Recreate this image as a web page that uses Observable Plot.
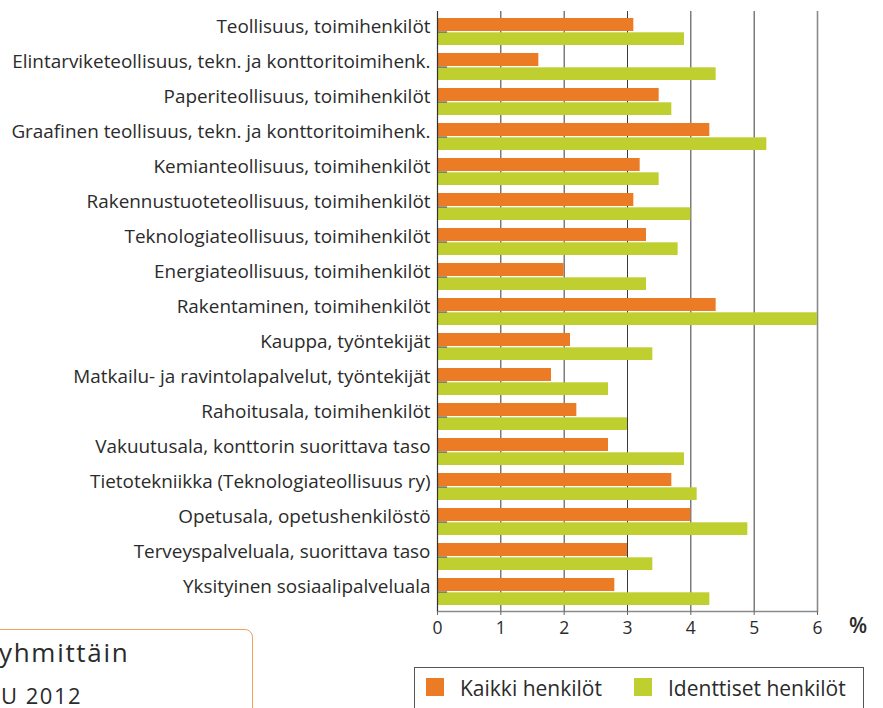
<!DOCTYPE html>
<html>
<head>
<meta charset="utf-8">
<script src="https://cdn.jsdelivr.net/npm/d3@7"></script>
<script src="https://cdn.jsdelivr.net/npm/@observablehq/plot@0.6"></script>
<style>
  html, body { margin: 0; padding: 0; background: #fff; }
  #wrap { position: relative; width: 883px; height: 708px; overflow: hidden; font-family: "Open Sans", sans-serif; color: #333; }
  #chart svg { position: absolute; left: 0; top: 0; }
  .abs { position: absolute; line-height: 1; white-space: nowrap; }
  .sw { position: absolute; width: 18px; height: 18px; }
</style>
</head>
<body>
<div id="wrap">
  <div id="chart"></div>
</div>
<script>
const categories = [
  "Teollisuus, toimihenkilöt",
  "Elintarviketeollisuus, tekn. ja konttoritoimihenk.",
  "Paperiteollisuus, toimihenkilöt",
  "Graafinen teollisuus, tekn. ja konttoritoimihenk.",
  "Kemianteollisuus, toimihenkilöt",
  "Rakennustuoteteollisuus, toimihenkilöt",
  "Teknologiateollisuus, toimihenkilöt",
  "Energiateollisuus, toimihenkilöt",
  "Rakentaminen, toimihenkilöt",
  "Kauppa, työntekijät",
  "Matkailu- ja ravintolapalvelut, työntekijät",
  "Rahoitusala, toimihenkilöt",
  "Vakuutusala, konttorin suorittava taso",
  "Tietotekniikka (Teknologiateollisuus ry)",
  "Opetusala, opetushenkilöstö",
  "Terveyspalveluala, suorittava taso",
  "Yksityinen sosiaalipalveluala"
];
const kaikkiHenkilot = [3.1, 1.6, 3.5, 4.3, 3.2, 3.1, 3.3, 2.0, 4.4, 2.1, 1.8, 2.2, 2.7, 3.7, 4.0, 3.0, 2.8];
const identtisetHenkilot = [3.9, 4.4, 3.7, 5.2, 3.5, 4.0, 3.8, 3.3, 6.0, 3.4, 2.7, 3.0, 3.9, 4.1, 4.9, 3.4, 4.3];
const seriesNames = ["Kaikki henkilöt", "Identtiset henkilöt"];
const xTicks = [0, 1, 2, 3, 4, 5, 6];
const unitLabel = "%";
const titleFragments = ["yhmittäin", "U 2012"];

const ORANGE = "#eb7b25";
const GREEN = "#c0cf30";

const data = categories.map((c, i) => ({category: c, kaikki: kaikkiHenkilot[i], identtiset: identtisetHenkilot[i]}));

const chart = Plot.plot({
  width: 883,
  height: 640,
  marginLeft: 437,
  marginRight: 66,
  marginTop: 11,
  marginBottom: 29,
  style: {fontFamily: "'Open Sans', sans-serif", background: "transparent", color: "#2b2b2b"},
  x: {domain: [xTicks[0], xTicks[xTicks.length - 1]], label: null},
  y: {domain: categories, padding: 0, label: null},
  marks: [
    Plot.ruleX(xTicks.slice(1, -1), {stroke: "#3a3a3a", strokeWidth: 1}),
    Plot.ruleX(xTicks.slice(-1), {stroke: "#8a8a8a", strokeWidth: 1.6}),
    Plot.barX(data, {y: "category", x: "kaikki", fill: ORANGE, insetTop: 4, insetBottom: 18}),
    Plot.barX(data, {y: "category", x: "identtiset", fill: GREEN, insetTop: 18.3, insetBottom: 4}),
    Plot.ruleY(categories, {y: d => d, x1: 0, x2: 0.16, stroke: "#333"}),
    Plot.frame({anchor: "bottom", stroke: "#8a8a8a", strokeWidth: 1.4}),
    Plot.ruleX(xTicks.slice(0, 1), {stroke: "#333", strokeWidth: 1.2}),
    Plot.axisX({ticks: xTicks, tickSize: 4, tickPadding: 6, fontSize: 17.5, stroke: "#666", fill: "#2b2b2b", tickFormat: d => String(d)}),
    Plot.axisY({tickSize: 0, tickPadding: 7, dy: -5, fontSize: 18.9, fill: "#2b2b2b"})
  ]
});
document.getElementById("chart").appendChild(chart);

const wrap = document.getElementById("wrap");
function add(html) { wrap.insertAdjacentHTML("beforeend", html); }

// unit label
add(`<div class="abs" style="left:849px;top:615px;font-size:21px;font-weight:600;color:#2b2b2b">${unitLabel}</div>`);

// legend
add(`<div style="position:absolute;left:414px;top:667px;width:450px;height:80px;border:1px solid #555;box-sizing:border-box"></div>`);
add(`<div class="sw" style="left:426px;top:678px;background:${ORANGE}"></div>`);
add(`<div class="abs" style="left:460px;top:677.5px;font-size:21px;color:#2b2b2b">${seriesNames[0]}</div>`);
add(`<div class="sw" style="left:634px;top:678px;background:${GREEN}"></div>`);
add(`<div class="abs" style="left:668px;top:677.5px;font-size:21px;color:#2b2b2b">${seriesNames[1]}</div>`);

// partially visible title box
add(`<div style="position:absolute;left:-30px;top:629px;width:283px;height:100px;border:1.5px solid #f0a060;border-radius:8px;box-sizing:border-box"></div>`);
add(`<div class="abs" style="left:-1px;top:638.5px;font-size:26px;letter-spacing:1.7px;color:#2b2b2b">${titleFragments[0]}</div>`);
add(`<div class="abs" style="left:1px;top:683.5px;font-size:22px;letter-spacing:1.5px;color:#2b2b2b">${titleFragments[1]}</div>`);
</script>
</body>
</html>
